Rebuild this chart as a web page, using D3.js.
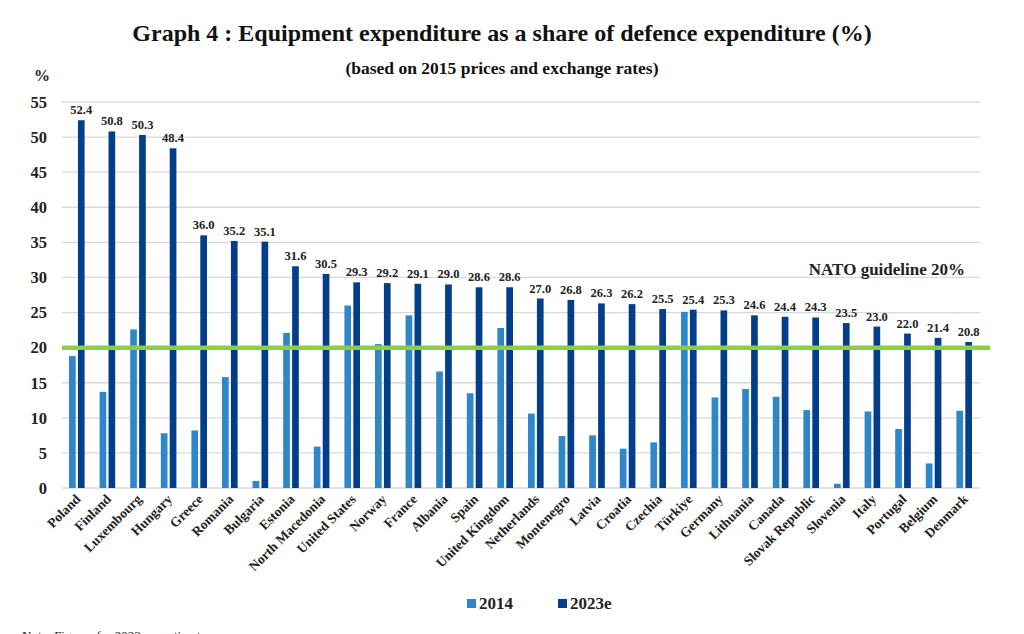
<!DOCTYPE html>
<html>
<head>
<meta charset="utf-8">
<script src="https://cdn.jsdelivr.net/npm/d3@7"></script>
<style>
  html, body { margin: 0; padding: 0; background: #fff; }
  svg { display: block; }
  text { font-family: "Liberation Serif", "DejaVu Serif", serif; }
</style>
</head>
<body>
<svg id="chart" width="1024" height="634"></svg>
<script>
const categories = ["Poland","Finland","Luxembourg","Hungary","Greece","Romania","Bulgaria","Estonia","North Macedonia","United States","Norway","France","Albania","Spain","United Kingdom","Netherlands","Montenegro","Latvia","Croatia","Czechia","Türkiye","Germany","Lithuania","Canada","Slovak Republic","Slovenia","Italy","Portugal","Belgium","Denmark"];
const values2014 = [18.8,13.7,22.6,7.8,8.2,15.8,1.0,22.1,5.9,26.0,20.5,24.6,16.6,13.5,22.8,10.6,7.4,7.5,5.6,6.5,25.1,12.9,14.1,13.0,11.1,0.6,10.9,8.4,3.5,11.0];
const values2023 = [52.4,50.8,50.3,48.4,36.0,35.2,35.1,31.6,30.5,29.3,29.2,29.1,29.0,28.6,28.6,27.0,26.8,26.3,26.2,25.5,25.4,25.3,24.6,24.4,24.3,23.5,23.0,22.0,21.4,20.8];
const seriesNames = ["2014","2023e"];
const yTicks = [0,5,10,15,20,25,30,35,40,45,50,55];
const guideline = 20;

const colors = {"2014": "#2f86c9", "2023e": "#023e89"};
const svg = d3.select("#chart");
const margin = {left: 62, right: 44, top: 102, bottom: 146};
const W = 1024, H = 634;

const x = d3.scaleBand().domain(categories).range([margin.left, W - margin.right]).paddingInner(0).paddingOuter(0);
const y = d3.scaleLinear().domain([0, 55]).range([488, 102]);
const xs = d3.scaleBand().domain(seriesNames).range([7, x.bandwidth() - 8]).paddingInner(0.25);

// gridlines
svg.append("g").selectAll("line").data(yTicks).join("line")
  .attr("x1", margin.left).attr("x2", W - margin.right)
  .attr("y1", d => y(d)).attr("y2", d => y(d))
  .attr("stroke", "#d9d9d9").attr("stroke-width", 1.3);

// y axis labels
const yAxis = d3.axisLeft(y).tickValues(yTicks).tickSize(0).tickPadding(15);
const ya = svg.append("g").attr("transform", `translate(${margin.left},0)`).call(yAxis);
ya.select(".domain").remove();
ya.selectAll("text").attr("font-size", 16.5).attr("font-weight", "bold").attr("fill", "#222");

// bars
const data = categories.map((c, i) => ({c, v: [values2014[i], values2023[i]]}));
const groups = svg.append("g").selectAll("g").data(data).join("g")
  .attr("transform", d => `translate(${x(d.c)},0)`);
groups.selectAll("rect").data(d => seriesNames.map((s, j) => ({s, v: d.v[j]}))).join("rect")
  .attr("x", d => xs(d.s)).attr("width", xs.bandwidth())
  .attr("y", d => y(d.v)).attr("height", d => y(0) - y(d.v))
  .attr("fill", d => colors[d.s]);

// value labels for 2023e
groups.append("text")
  .attr("x", xs("2023e") + xs.bandwidth() / 2)
  .attr("y", d => y(d.v[1]) - 6)
  .attr("text-anchor", "middle")
  .attr("font-size", 12.5).attr("font-weight", "bold").attr("fill", "#222")
  .text(d => d.v[1].toFixed(1));

// guideline
svg.append("line")
  .attr("x1", margin.left).attr("x2", 990)
  .attr("y1", y(guideline)).attr("y2", y(guideline))
  .attr("stroke", "#8ccf45").attr("stroke-width", 4.5);
svg.append("text").attr("x", 965).attr("y", 275).attr("text-anchor", "end")
  .attr("font-size", 17).attr("font-weight", "bold").attr("fill", "#222")
  .text(`NATO guideline ${guideline}%`);

// x axis labels
const xAxis = d3.axisBottom(x).tickSize(0).tickPadding(0);
const xa = svg.append("g").attr("transform", `translate(0,${y(0)})`).call(xAxis);
xa.select(".domain").remove();
xa.selectAll("text")
  .attr("font-size", 13.5).attr("font-weight", "bold").attr("fill", "#222")
  .attr("text-anchor", "end")
  .attr("dy", 0)
  .attr("transform", "translate(4,12) rotate(-45)")
  .attr("y", 0).attr("x", 0);

// titles
svg.append("text").attr("x", 502).attr("y", 41).attr("text-anchor", "middle")
  .attr("font-size", 24).attr("font-weight", "bold").attr("fill", "#111")
  .text("Graph 4 : Equipment expenditure as a share of defence expenditure (%)");
svg.append("text").attr("x", 502).attr("y", 74).attr("text-anchor", "middle")
  .attr("font-size", 17.5).attr("font-weight", "bold").attr("fill", "#111")
  .text("(based on 2015 prices and exchange rates)");
svg.append("text").attr("x", 34).attr("y", 81)
  .attr("font-size", 16).attr("font-weight", "bold").attr("fill", "#222").text("%");

// legend
const legend = svg.append("g");
const legX = [467, 558];
seriesNames.forEach((s, i) => {
  legend.append("rect").attr("x", legX[i]).attr("y", 599).attr("width", 9).attr("height", 9).attr("fill", colors[s]);
  legend.append("text").attr("x", legX[i] + 12).attr("y", 609)
    .attr("font-size", 17).attr("font-weight", "bold").attr("fill", "#222").text(s);
});

// note (cut off at the bottom edge, as in the reference)
svg.append("text").attr("x", 22).attr("y", 640).attr("font-size", 13).attr("fill", "#222")
  .text("Note: Figures for 2023 are estimates");
</script>
</body>
</html>
